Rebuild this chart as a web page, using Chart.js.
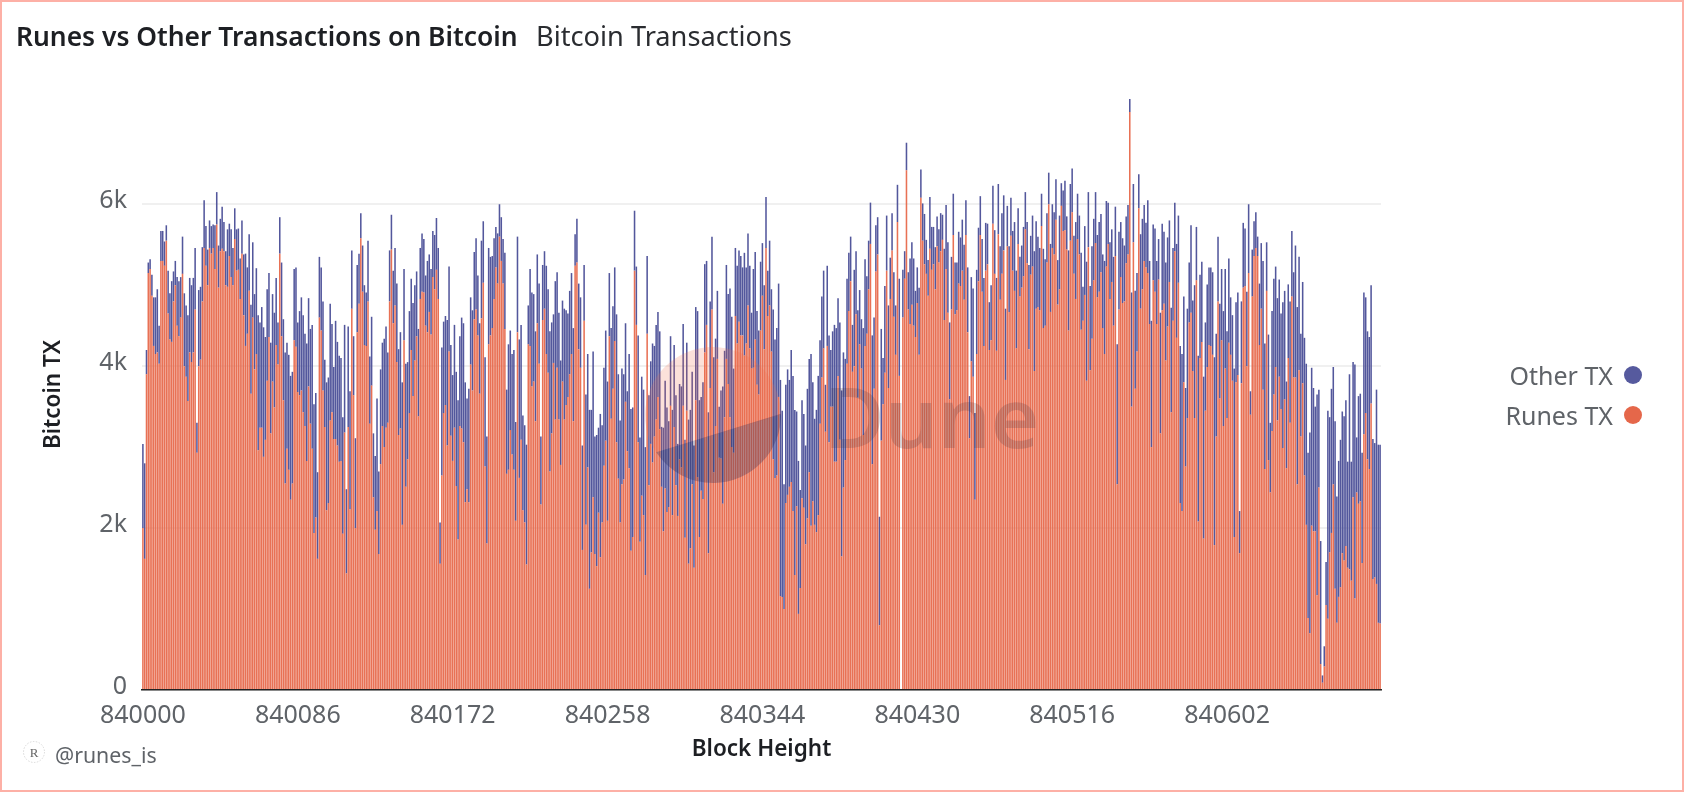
<!DOCTYPE html>
<html><head><meta charset="utf-8">
<script src="https://cdn.jsdelivr.net/npm/chart.js@4"></script>
<style>
html,body{margin:0;padding:0;background:#fff;overflow:hidden}
#frame{position:absolute;left:0;top:0;width:1684px;height:792px;box-sizing:border-box;border:2px solid #fdb0a6;font-family:"Noto Sans",sans-serif}
canvas{position:absolute;left:0;top:0}
.t{position:absolute;white-space:nowrap}
#title{left:14px;top:16px;font-size:26.4px;font-weight:600;color:#1d1f23;line-height:36px}
#sub{left:534px;top:16px;font-size:27.2px;font-weight:400;color:#2a2c30;line-height:36px}
.leg{right:69px;font-size:25px;color:#5f6368;line-height:30px}
.dot{position:absolute;left:1622px;width:18px;height:18px;border-radius:50%}
#foot{left:53px;top:739px;font-size:21.3px;color:#5f6368;line-height:28px}
</style></head><body>
<canvas id="c" width="1684" height="792"></canvas>
<div id="frame">
<div class="t" id="title">Runes vs Other Transactions on Bitcoin</div>
<div class="t" id="sub">Bitcoin Transactions</div>
<div class="t leg" style="top:358px">Other TX</div><div class="dot" style="top:364px;background:#565a9e"></div>
<div class="t leg" style="top:398px">Runes TX</div><div class="dot" style="top:404px;background:#e5674a"></div>
<svg style="position:absolute;left:20px;top:738px" width="24" height="24"><circle cx="12" cy="12" r="10.5" fill="#fff" stroke="#d8d8d8" stroke-dasharray="1.5 1.5"/><text x="12" y="17" font-size="13" text-anchor="middle" fill="#666" font-family="Liberation Serif">R</text></svg>
<div class="t" id="foot">@runes_is</div>
</div>
<script>
const xTickLabels=['840000','840086','840172','840258','840344','840430','840516','840602'];
const yTicks=[0,2000,4000,6000];
const runesTx=[
2000,1620,3900,5150,5200,4870,4250,4150,4170,4030,5300,5300,5240,5550,4650,4330,4300,4800,5000,4500,
4370,4600,5140,4000,3870,3570,4170,4050,4170,4700,2930,4000,4080,4800,5460,5240,5000,5460,5390,5460,
5200,5750,4970,5420,5450,5420,5000,4980,5360,5100,5000,5570,5180,5190,4830,5390,4630,4250,4400,4930,
3660,4600,3960,4150,2960,3240,3240,2880,3090,3820,4360,3170,3810,3490,4260,4020,5390,4370,3580,2550,
2980,2720,2350,2550,4320,4240,3680,3640,3700,3430,3260,2830,3750,3290,2980,1940,2130,1620,4600,
4440,3700,3250,2220,2310,3330,3430,3100,3100,3020,2820,2830,1930,3180,1440,3250,2230,4710,3640,2000,
4420,4770,5580,4920,4260,4250,4800,3290,3760,2380,1980,2210,1680,2790,3260,3000,3240,3300,4800,5440,
4530,4750,4050,3150,3230,2040,4320,2510,2850,3420,4200,3630,4070,4370,3380,4830,4920,4910,4500,4420,
4670,4390,5100,4950,5190,4830,1560,2650,3420,3520,3020,4180,3140,2830,3240,2520,1860,3260,3230,3060,
2320,2480,2320,4020,3700,4580,4700,4380,3660,4590,5030,2760,1810,4270,4380,4470,4830,5220,5020,
5600,5300,5020,4460,2670,2720,3210,2910,2720,2090,4420,2620,3090,2220,2070,1550,4270,4250,3750,3810,
3320,4530,4030,2290,4570,4710,4150,3920,2700,3170,4040,3340,3980,3340,2780,3810,3340,3520,3620,3900,
4150,3320,5240,5280,4210,3980,1730,4560,2040,2750,1250,1700,2380,1680,1530,2190,1640,2070,2770,3080,
2090,4370,3350,3720,4310,3060,2610,2070,2540,2600,3560,2950,2740,1720,1890,5180,4510,3060,1830,2400,
2160,1420,4400,2530,3040,2810,3130,3340,3620,3220,2510,1960,2490,2200,2260,3510,2160,3250,
2530,2150,2850,2750,3510,1880,3450,1560,1750,2540,1510,3580,2630,1890,2460,2360,4170,4510,1690,3730,
4700,2690,3260,4090,2870,2860,2300,3370,4090,3780,3370,3000,2930,4620,4280,4550,4380,4380,4130,4280,
4750,4220,3970,3980,4330,3770,3650,4440,4870,4210,5460,4620,4750,4180,2850,2620,2650,3620,1160,1150,
1000,2310,2410,2510,2570,2210,1420,2270,940,1260,2370,2250,1800,2120,2690,2030,2330,2040,1950,2160,
3290,3860,4220,3190,4250,3060,3500,3500,2820,2820,3880,3090,1650,2500,2840,4030,4680,5050,3930,
4000,4640,3610,4270,3970,3150,4250,4400,4950,5510,2790,3720,5170,5380,800,3080,3530,3920,5180,3730,
4830,5430,4610,4140,5780,3880,0,4600,5080,6420,4700,4520,4760,4500,4360,4780,4140,6080,5550,5260,
5140,4870,5450,5190,5260,4950,5480,5280,5420,5560,4570,5200,4660,3590,4700,5620,4640,4690,5020,4990,
5180,4820,5620,4420,3110,4060,3870,2350,4150,5050,5620,4920,4250,5180,5260,4200,4320,5760,5140,4190,
5630,4820,5140,5430,3830,5480,4670,5610,5180,4930,4220,5510,4860,4970,5110,5690,5270,4210,5130,
5230,3940,4710,4730,4690,5730,4470,4500,5280,6000,4670,5460,5380,5810,4760,4950,5980,5670,5680,5440,
4440,5550,5900,5140,4830,5570,5380,4450,4560,4880,3820,5470,3950,4340,5060,5520,4850,4920,5160,4470,
4150,5230,5510,4830,5040,4500,5360,2540,4700,5100,4780,4800,5270,5380,7140,3500,5530,3720,4180,5950,
4710,4950,5300,5220,5150,4520,3000,5060,4920,4520,5070,3170,4690,4770,4070,4490,5040,3430,4560,5420,
4350,5030,2310,2210,3800,2760,3360,4540,4660,3940,3360,5060,2080,4100,4300,1870,3450,3990,4260,
4250,4140,1790,3130,4800,3600,4320,3260,3970,3360,4290,4140,3820,1890,3800,3890,1690,3790,4970,4990,
4000,5150,3400,4860,5360,5460,5360,4260,4710,3710,2730,4930,2840,2440,3200,3650,3990,3330,3870,3470,
2990,3590,2740,4100,3300,4860,3860,3860,2540,3950,3130,3790,2650,2040,890,700,2030,1960,1960,1170,
2500,320,90,290,1050,880,1700,1940,2540,1250,830,1150,1270,1690,1600,1780,1510,1490,1350,2380,
1130,2440,2300,2330,1570,3160,3420,2850,2730,3540,1370,1390,1310,830,820];
const otherTx=[
1040,1180,300,130,120,260,600,700,780,470,370,370,300,190,530,570,750,370,300,600,
680,500,460,900,880,1060,920,950,920,760,370,940,900,670,590,490,440,340,340,290,
540,400,520,400,520,360,420,710,400,590,460,380,510,510,500,410,750,1140,820,700,
1100,930,930,1060,1670,1300,1490,1600,1270,1130,790,1120,1080,1170,830,520,450,910,1000,1620,
1310,1420,1530,1380,880,980,860,1040,1150,1200,1140,1450,1090,1170,1530,1590,1540,1070,750,
780,1100,830,1580,1550,1440,1090,890,1460,1280,1310,1270,1440,1330,1040,1240,1460,720,730,1110,
830,620,310,570,740,660,750,830,850,790,910,1390,1020,1170,1030,1340,1250,870,630,430,
650,710,970,1060,1190,1760,880,1520,1200,1260,880,1150,930,800,1080,630,720,660,620,880,
710,810,570,670,640,630,510,1580,1130,1100,1550,1050,1120,1060,1270,1410,1720,1110,1370,1470,
1480,1120,1400,830,990,830,880,740,870,960,760,1350,1320,1190,970,890,750,500,620,
400,540,550,940,1040,1550,1230,1240,1480,1220,1180,1710,1420,1170,1200,1480,480,950,1160,1080,
1110,850,990,840,680,710,1090,1030,1730,1370,600,1710,1180,1320,1290,1000,1370,1170,1030,1030,
1000,1150,390,540,810,870,1290,690,1610,1400,2210,1760,1800,1450,1620,1050,1770,1200,1210,1360,
1720,780,1120,1020,910,1580,1290,1260,1430,1300,970,740,1410,1750,1600,740,720,1320,1290,1470,
1550,1580,960,1110,1020,1470,1120,1170,1050,1210,740,1280,1330,1290,1060,860,1300,1010,
1110,890,930,1000,1010,1210,840,1780,1710,1390,1510,1150,2050,1690,1160,1440,1090,790,1740,1070,
900,1420,1080,840,630,840,1450,820,1160,1110,1590,1610,1040,840,960,880,980,840,1270,940,
890,1020,690,1220,1080,910,790,850,650,790,630,560,800,770,1850,1710,1820,1400,2670,2300,
1540,1460,1550,1320,1630,1670,2040,1170,1890,1210,1210,1160,1220,1600,1400,2120,1470,1310,1510,1720,
1030,1000,960,580,990,1320,700,930,1690,1650,960,1450,2050,1670,1250,1050,720,550,580,
1190,780,1080,670,610,1320,1070,710,600,510,1590,880,570,460,1340,1380,570,1070,680,1020,
510,460,550,610,460,1200,0,590,340,340,460,810,770,830,570,440,830,350,460,620,
420,440,640,530,460,520,370,410,470,310,880,790,870,950,650,510,640,590,640,600,
630,680,430,800,520,1040,1090,1070,1040,660,480,650,840,590,500,590,680,470,540,900,
620,660,750,680,880,500,810,470,490,850,960,440,490,520,610,460,510,1040,480,
630,1480,1080,870,770,400,980,820,610,390,840,540,520,500,550,910,280,500,610,410,
990,700,540,470,950,560,480,950,420,850,1470,680,1040,1140,760,630,770,860,720,910,
1150,810,510,700,650,850,610,1730,960,680,800,690,580,610,160,1410,720,1210,970,420,
920,870,690,550,900,780,1560,690,780,780,500,1490,1070,890,1210,1100,760,1290,900,600,
1160,830,1940,1940,1060,970,1350,740,1080,870,1640,660,2050,1030,990,2000,1090,1020,960,
970,1020,2320,1270,800,1170,880,1420,1230,1070,1040,710,810,2080,990,1020,520,1010,800,710,
920,850,290,580,430,440,240,760,810,1590,1550,600,1550,860,1480,1430,1240,1510,1200,1180,
1800,1340,1070,910,1500,810,1300,1630,2190,1400,1270,1250,1700,1990,2040,2480,1950,1770,1540,2480,
1210,1520,90,250,530,2570,1670,1780,1450,2070,1560,1680,1820,1750,1780,1800,1310,2410,1470,1670,
2890,680,1330,1330,1360,1750,1430,1580,1630,1460,1730,1660,2400,2200,2210];
const blockHeights=runesTx.map((_,i)=>String(840000+i));

const watermark={id:'watermark',afterDatasetsDraw(ch){
 const g=ch.ctx;g.save();
 g.beginPath();g.arc(713,415,68,2.56,6.28);g.closePath();g.fillStyle='rgba(240,105,70,.2)';g.fill();
 g.beginPath();g.arc(713,415,68,-0.02,2.56);g.closePath();g.fillStyle='rgba(40,40,85,.3)';g.fill();
 g.font='600 83px "Noto Sans"';g.fillStyle='rgba(60,45,60,.2)';g.textAlign='left';g.textBaseline='alphabetic';
 g.fillText('Dune',824,448);g.restore();
}};
new Chart(document.getElementById('c'),{
 type:'bar',
 data:{labels:blockHeights,datasets:[
  {label:'Runes TX',data:runesTx,backgroundColor:'rgba(230,98,66,.9)',stack:'s'},
  {label:'Other TX',data:otherTx,backgroundColor:'rgba(72,76,150,.94)',stack:'s'}]},
 options:{responsive:false,animation:false,
  layout:{padding:{left:0,right:303,top:99,bottom:0}},
  datasets:{bar:{categoryPercentage:1,barPercentage:.86}},
  plugins:{legend:{display:false},tooltip:{enabled:false}},
  scales:{
   x:{stacked:true,grid:{display:false,drawTicks:false},border:{display:true,color:'#222',width:1.5},
    afterFit(s){s.height=102},
    ticks:{autoSkip:false,maxRotation:0,minRotation:0,padding:11,color:'#5f6368',font:{family:'Noto Sans',size:25},
     callback(v){const l=this.getLabelForValue(v);return xTickLabels.includes(l)?l:''}},
    title:{display:true,text:'Block Height',color:'#1d1f23',font:{family:'Noto Sans',size:22.5,weight:'600'},padding:{top:0,bottom:29}}},
   y:{stacked:true,min:0,max:7300,
    afterBuildTicks(s){s.ticks=yTicks.map(v=>({value:v}))},
    afterFit(s){s.width=142},
    grid:{color:'#f0f0f0',lineWidth:2,drawTicks:false},border:{display:false},
    ticks:{padding:15,labelOffset:-3,color:'#5f6368',font:{family:'Noto Sans',size:25},callback(v){return v?(v/1000)+'k':'0'}},
    title:{display:true,text:'Bitcoin TX',color:'#1d1f23',font:{family:'Noto Sans',size:22.5,weight:'600'},padding:{top:40,bottom:0}}}
  }},
 plugins:[watermark]
});
</script>
</body></html>
